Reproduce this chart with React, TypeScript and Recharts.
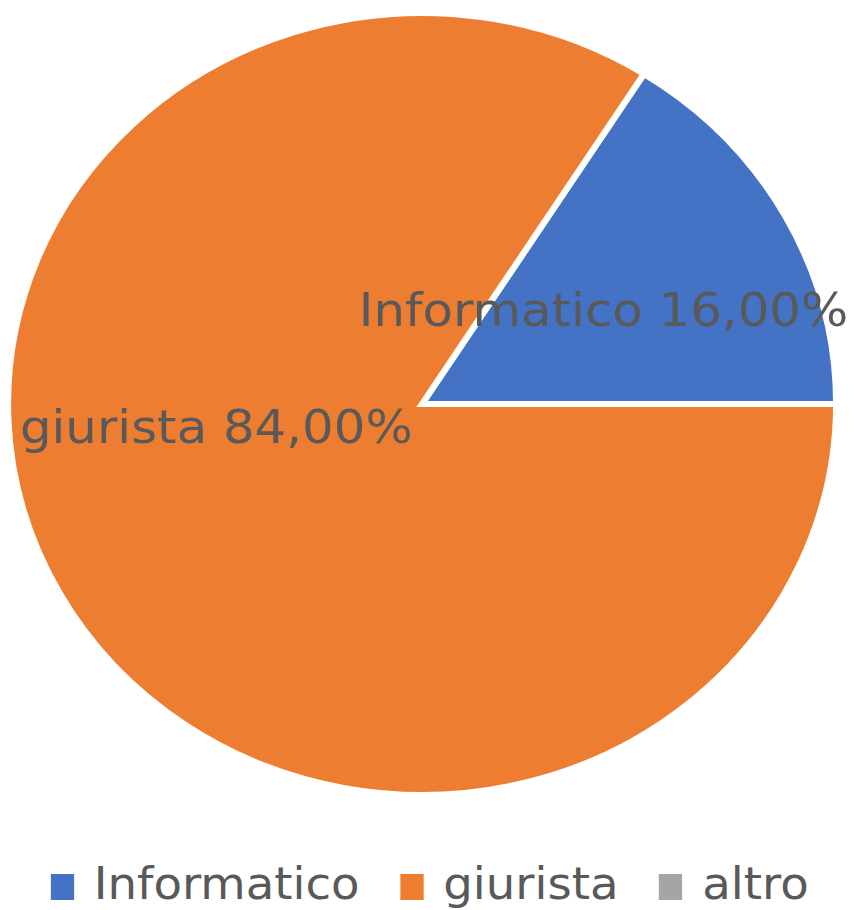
import React from 'react';
import { PieChart, Pie, Cell, Legend } from 'recharts';

const categories = ['Informatico', 'giurista', 'altro'];
const shares = [16, 84, 0];
const colors = ['#4472C4', '#ED7D31', '#A5A5A5'];

const data = categories.map((name, i) => ({ name, value: shares[i] }));

// Excel "best fit" label placement: angle (degrees) at which a label sits, when it differs from the slice mid-angle
const labelAngleOverride: Record<string, number> = { giurista: 186.5 };

const SCALE_X = 1.0592;
const W = 811;
const H = 910;
const FONT = '"DejaVu Sans", Verdana, sans-serif';
const TEXT = '#595959';

const RAD = Math.PI / 180;

const renderLabel = (props: any) => {
  const { cx, cy, outerRadius, midAngle, payload, value } = props;
  if (!value) return null;
  const name = payload?.name ?? props.name;
  const angle = labelAngleOverride[name] ?? midAngle;
  const r = outerRadius * 0.5;
  const x = cx + r * Math.cos(angle * RAD);
  const y = cy - r * Math.sin(angle * RAD);
  const pct = (value as number).toFixed(2).replace('.', ',');
  return (
    <text
      x={x}
      y={y}
      fill={TEXT}
      textAnchor="middle"
      dominantBaseline="central"
      style={{ fontFamily: FONT, fontSize: 47 }}
    >
      {`${name} ${pct}%`}
    </text>
  );
};

const renderLegend = (props: any) => {
  const payload = [...(props.payload || [])].sort(
    (a: any, b: any) => categories.indexOf(a.value) - categories.indexOf(b.value)
  );
  return (
    <div
      style={{
        display: 'flex',
        justifyContent: 'center',
        alignItems: 'center',
        width: W,
        fontFamily: FONT,
        fontSize: 44,
        lineHeight: '51px',
        color: TEXT,
      }}
    >
      {payload.map((entry: any, i: number) => (
        <div
          key={i}
          style={{ display: 'flex', alignItems: 'center', marginLeft: i === 0 ? 0 : 38 }}
        >
          <span
            style={{
              display: 'inline-block',
              width: 22,
              height: 26,
              background: entry.color,
              marginRight: 19,
              marginTop: 6,
            }}
          />
          <span>{entry.value}</span>
        </div>
      ))}
    </div>
  );
};

export default function App() {
  return (
    <div
      style={{
        position: 'absolute',
        left: 0,
        top: 0,
        width: W,
        height: H,
        transform: `scaleX(${SCALE_X})`,
        transformOrigin: '0 0',
        background: '#fff',
      }}
    >
      <PieChart width={W} height={H} margin={{ top: 0, right: 0, bottom: 0, left: 0 }}>
        <Pie
          data={data}
          dataKey="value"
          nameKey="name"
          cx={398.5}
          cy={404}
          outerRadius={391}
          startAngle={0}
          endAngle={360}
          stroke="#ffffff"
          strokeWidth={6}
          label={renderLabel}
          labelLine={false}
          isAnimationActive={false}
        >
          {data.map((d, i) => (
            <Cell key={d.name} fill={colors[i]} />
          ))}
        </Pie>
        <Legend
          content={renderLegend}
          verticalAlign="bottom"
          wrapperStyle={{ position: 'absolute', top: 858, left: 0, width: W, bottom: 'auto' }}
        />
      </PieChart>
    </div>
  );
}
